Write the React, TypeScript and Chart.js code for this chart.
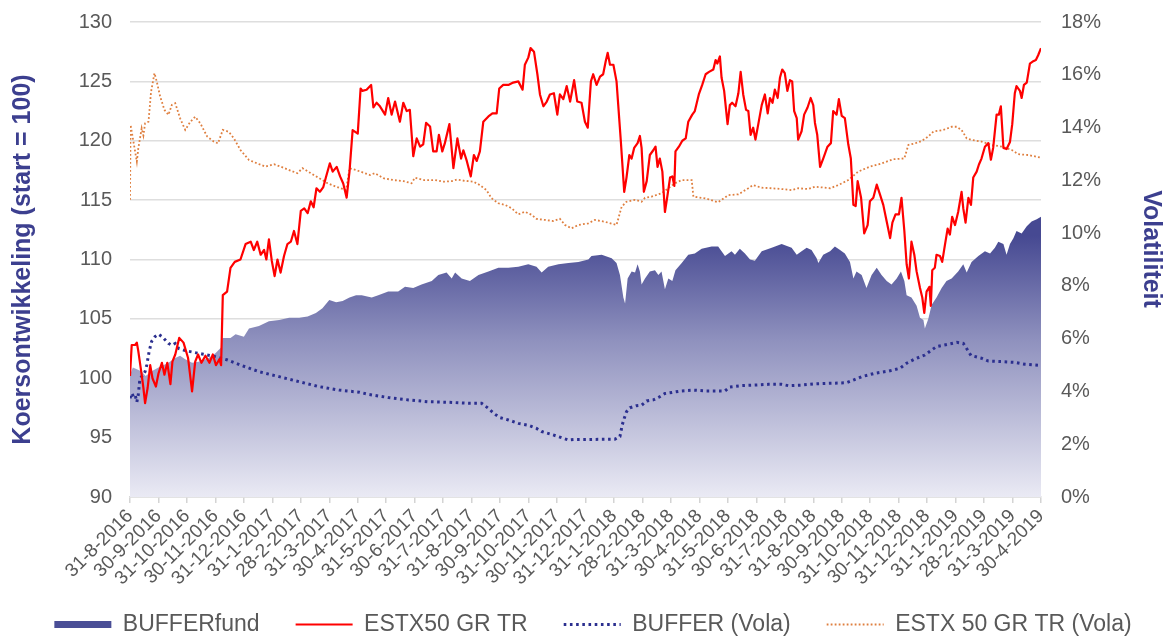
import React, { useEffect, useRef } from "react";
import { Chart, registerables } from "chart.js";

Chart.register(...registerables);

// ---------- data ----------
const monthLabels: string[] = [
  "31-8-2016", "30-9-2016", "31-10-2016", "30-11-2016", "31-12-2016",
  "31-1-2017", "28-2-2017", "31-3-2017", "30-4-2017", "31-5-2017", "30-6-2017",
  "31-7-2017", "31-8-2017", "30-9-2017", "31-10-2017", "30-11-2017", "31-12-2017",
  "31-1-2018", "28-2-2018", "31-3-2018", "30-4-2018", "31-5-2018", "30-6-2018",
  "31-7-2018", "31-8-2018", "30-9-2018", "31-10-2018", "30-11-2018", "31-12-2018",
  "31-1-2019", "28-2-2019", "31-3-2019", "30-4-2019",
];

// [month index since 31-8-2016, index level]
const bufferFund: [number, number][] = [
  [0, 100.3], [0.1, 100.9], [0.4, 100.6], [0.55, 100.2], [0.76, 100.6], [1.0, 100.9], [1.35, 101.3],
  [1.59, 101.7], [1.76, 101.9], [1.94, 101.6], [2.18, 101.3], [2.41, 101.4], [2.76, 101.7], [3.0, 102.1],
  [3.2, 102.6], [3.25, 103.4], [3.53, 103.4], [3.71, 103.7], [4.0, 103.5], [4.18, 104.2], [4.53, 104.4],
  [4.88, 104.8], [5.24, 104.9], [5.59, 105.1], [5.94, 105.1], [6.24, 105.2], [6.53, 105.5], [6.76, 105.9],
  [7.0, 106.6], [7.24, 106.4], [7.47, 106.5], [7.71, 106.8], [7.94, 107.0], [8.14, 107.0], [8.49, 106.8],
  [8.72, 107.0], [9.07, 107.3], [9.42, 107.3], [9.66, 107.7], [9.95, 107.6], [10.24, 107.9], [10.6, 108.2],
  [10.83, 108.7], [11.12, 108.9], [11.3, 108.4], [11.42, 108.9], [11.65, 108.4], [11.94, 108.2], [12.24, 108.7],
  [12.59, 109.0], [12.94, 109.3], [13.29, 109.3], [13.64, 109.4], [13.99, 109.6], [14.28, 109.4], [14.46, 108.9],
  [14.69, 109.4], [15.05, 109.6], [15.4, 109.7], [15.75, 109.8], [16.1, 110.0], [16.21, 110.3], [16.57, 110.4],
  [16.92, 110.1], [17.09, 109.7], [17.21, 108.7], [17.33, 106.8], [17.39, 106.3], [17.48, 108.4], [17.62, 109.0],
  [17.74, 108.9], [17.83, 109.6], [17.91, 109.0], [17.97, 107.9], [18.09, 108.4], [18.26, 109.0], [18.44, 109.1],
  [18.56, 108.7], [18.67, 109.0], [18.79, 107.5], [18.91, 108.4], [19.05, 108.2], [19.16, 109.1], [19.38, 109.7],
  [19.61, 110.4], [19.84, 110.5], [20.08, 110.9], [20.43, 111.1], [20.66, 111.1], [20.9, 110.3], [21.02, 110.5],
  [21.13, 110.7], [21.25, 110.4], [21.42, 110.9], [21.6, 110.5], [21.78, 110.0], [21.95, 109.9], [22.19, 110.7],
  [22.54, 111.0], [22.89, 111.3], [23.24, 111.0], [23.42, 110.4], [23.59, 110.7], [23.77, 111.0], [23.94, 110.8],
  [24.12, 110.1], [24.18, 109.7], [24.35, 110.4], [24.59, 110.7], [24.76, 111.1], [24.94, 110.8], [25.11, 110.5],
  [25.29, 109.8], [25.41, 108.4], [25.52, 109.0], [25.7, 108.7], [25.87, 107.6], [26.05, 108.7], [26.23, 109.3],
  [26.4, 108.7], [26.58, 108.2], [26.75, 107.9], [26.93, 108.4], [27.08, 109.0], [27.2, 108.2], [27.28, 107.0],
  [27.45, 106.8], [27.63, 106.1], [27.75, 105.1], [27.87, 104.9], [27.92, 104.2], [28.04, 105.0], [28.16, 106.2],
  [28.33, 106.8], [28.51, 107.6], [28.68, 108.2], [28.86, 108.4], [29.09, 109.0], [29.27, 109.6], [29.39, 108.9],
  [29.56, 109.8], [29.8, 110.3], [30.03, 110.7], [30.21, 110.5], [30.38, 111.0], [30.5, 111.5], [30.68, 111.3],
  [30.79, 110.4], [30.91, 111.3], [31.03, 111.8], [31.14, 112.4], [31.32, 112.2], [31.5, 112.8], [31.67, 113.2],
  [31.85, 113.4], [32.0, 113.6],
];

const estx50: [number, number][] = [
  [0, 100.2], [0.06, 102.8], [0.18, 102.8], [0.24, 103.0], [0.29, 102.3], [0.41, 100.3], [0.47, 99.2], [0.53, 97.9],
  [0.62, 99.2], [0.71, 101.1], [0.79, 100.0], [0.91, 99.3], [1.0, 100.4], [1.12, 101.3], [1.21, 100.3], [1.31, 101.3],
  [1.42, 99.5], [1.49, 101.4], [1.59, 102.0], [1.73, 103.4], [1.88, 103.0], [2.04, 101.7], [2.18, 98.9], [2.29, 101.4],
  [2.39, 102.0], [2.51, 101.3], [2.65, 101.9], [2.79, 101.3], [2.91, 102.0], [3.02, 101.1], [3.14, 101.6], [3.2, 101.1],
  [3.26, 107.0], [3.41, 107.3], [3.53, 109.3], [3.68, 109.8], [3.88, 110.0], [4.06, 111.3], [4.24, 111.5], [4.35, 110.8],
  [4.47, 111.5], [4.59, 110.4], [4.71, 110.8], [4.79, 110.0], [4.88, 111.7], [4.98, 109.9], [5.08, 108.6], [5.18, 110.0],
  [5.29, 108.9], [5.41, 110.3], [5.53, 111.3], [5.65, 111.5], [5.76, 112.4], [5.88, 111.3], [6.0, 114.1], [6.12, 114.3],
  [6.24, 113.9], [6.35, 114.9], [6.45, 114.4], [6.55, 116.0], [6.67, 115.7], [6.79, 116.1], [6.88, 116.9], [7.02, 118.1],
  [7.12, 117.4], [7.26, 117.8], [7.38, 117.0], [7.49, 116.4], [7.61, 115.2], [7.71, 117.4], [7.82, 120.9], [8.0, 120.6],
  [8.1, 124.4], [8.16, 124.2], [8.31, 124.3], [8.47, 124.7], [8.55, 122.8], [8.66, 123.2], [8.78, 122.9], [8.96, 122.2],
  [9.07, 123.6], [9.19, 122.2], [9.31, 123.3], [9.48, 121.6], [9.6, 123.2], [9.72, 122.5], [9.83, 122.6], [9.95, 118.7],
  [10.07, 120.2], [10.19, 119.5], [10.3, 119.7], [10.4, 121.5], [10.54, 121.2], [10.65, 119.1], [10.77, 119.1],
  [10.85, 120.5], [10.97, 119.1], [11.06, 119.8], [11.22, 121.4], [11.36, 117.7], [11.5, 120.2], [11.63, 118.5],
  [11.71, 119.2], [11.83, 118.3], [11.97, 117.0], [12.08, 118.8], [12.18, 118.3], [12.29, 119.1], [12.41, 121.6],
  [12.59, 122.05], [12.73, 122.3], [12.88, 122.3], [12.97, 124.4], [13.11, 124.7], [13.29, 124.7], [13.46, 124.9],
  [13.64, 125.0], [13.79, 124.3], [13.87, 126.4], [13.99, 127.0], [14.07, 127.8], [14.19, 127.5], [14.31, 125.6],
  [14.4, 123.9], [14.52, 122.9], [14.64, 123.3], [14.75, 123.9], [14.89, 124.0], [15.01, 122.2], [15.1, 123.9],
  [15.22, 123.5], [15.34, 124.6], [15.46, 123.3], [15.6, 125.1], [15.71, 123.3], [15.86, 123.2], [15.98, 121.6],
  [16.08, 121.1], [16.19, 125.0], [16.27, 125.6], [16.39, 124.7], [16.51, 125.4], [16.62, 125.6], [16.71, 126.7],
  [16.78, 127.4], [16.86, 126.4], [16.98, 126.4], [17.09, 125.0], [17.15, 123.0], [17.24, 120.0], [17.36, 115.7],
  [17.44, 116.9], [17.54, 118.8], [17.62, 118.5], [17.71, 119.4], [17.83, 119.8], [17.91, 120.4], [17.97, 119.4],
  [18.05, 115.7], [18.15, 116.6], [18.26, 118.8], [18.38, 119.2], [18.46, 119.5], [18.53, 117.8], [18.61, 118.5],
  [18.7, 117.4], [18.79, 114.0], [18.88, 115.4], [18.97, 116.9], [19.05, 117.0], [19.12, 116.2], [19.16, 119.1],
  [19.28, 119.5], [19.4, 120.0], [19.52, 120.2], [19.61, 121.6], [19.75, 122.2], [19.84, 122.5], [19.98, 123.9],
  [20.1, 124.7], [20.22, 125.6], [20.34, 125.8], [20.49, 126.0], [20.57, 126.8], [20.63, 126.5], [20.72, 127.1],
  [20.78, 125.3], [20.87, 124.2], [20.99, 121.4], [21.07, 123.0], [21.15, 123.2], [21.27, 122.9], [21.37, 124.0],
  [21.45, 125.8], [21.54, 123.9], [21.64, 122.6], [21.72, 122.5], [21.8, 120.5], [21.89, 121.1], [21.97, 120.1],
  [22.07, 121.4], [22.19, 123.0], [22.3, 123.9], [22.4, 122.3], [22.48, 123.6], [22.57, 123.2], [22.65, 124.3],
  [22.75, 123.6], [22.83, 125.3], [22.91, 126.0], [23.0, 125.7], [23.09, 124.2], [23.18, 125.1], [23.26, 125.0],
  [23.33, 122.5], [23.42, 121.9], [23.47, 120.1], [23.59, 120.8], [23.68, 122.2], [23.8, 122.8], [23.91, 123.6],
  [24.0, 123.0], [24.06, 121.5], [24.14, 120.5], [24.24, 117.8], [24.35, 118.5], [24.5, 119.5], [24.62, 119.8],
  [24.7, 122.5], [24.82, 122.2], [24.9, 123.5], [25.0, 122.1], [25.11, 121.9], [25.23, 119.7], [25.32, 118.5],
  [25.41, 114.6], [25.49, 114.5], [25.56, 116.6], [25.68, 115.2], [25.79, 112.2], [25.91, 112.9], [25.99, 114.9],
  [26.11, 115.2], [26.23, 116.3], [26.34, 115.5], [26.46, 114.6], [26.58, 113.2], [26.7, 111.8], [26.78, 113.1],
  [26.89, 113.8], [27.01, 113.8], [27.1, 115.2], [27.2, 112.4], [27.28, 109.6], [27.36, 108.4], [27.45, 111.5],
  [27.55, 110.4], [27.63, 109.0], [27.75, 107.6], [27.83, 106.8], [27.9, 105.5], [27.98, 107.3], [28.08, 107.7],
  [28.13, 106.1], [28.18, 109.1], [28.27, 109.3], [28.33, 110.4], [28.45, 110.3], [28.53, 109.8], [28.63, 111.3],
  [28.72, 112.6], [28.8, 112.1], [28.88, 113.6], [28.98, 112.9], [29.09, 114.0], [29.21, 115.7], [29.27, 114.3],
  [29.35, 113.1], [29.45, 115.2], [29.54, 114.6], [29.62, 116.9], [29.74, 117.4], [29.82, 118.0], [29.91, 118.5],
  [30.03, 119.5], [30.15, 119.8], [30.24, 118.4], [30.32, 119.4], [30.44, 122.2], [30.52, 122.2], [30.59, 122.9],
  [30.68, 119.4], [30.79, 119.3], [30.91, 119.9], [30.99, 121.4], [31.08, 124.0], [31.14, 124.6], [31.26, 124.2],
  [31.32, 123.6], [31.4, 124.7], [31.5, 124.9], [31.61, 126.5], [31.73, 126.7], [31.82, 126.8], [31.9, 127.2],
  [32.0, 127.8],
];

// volatility in %
const bufferVola: [number, number][] = [
  [0, 3.74], [0.06, 3.93], [0.12, 3.81], [0.18, 3.87], [0.24, 3.6], [0.29, 3.87], [0.35, 4.5], [0.41, 4.56],
  [0.53, 4.75], [0.59, 5.0], [0.67, 5.5], [0.76, 5.9], [0.88, 6.08], [1.0, 6.17], [1.12, 6.08], [1.24, 5.95],
  [1.35, 5.82], [1.47, 5.75], [1.59, 5.82], [1.71, 5.63], [1.88, 5.57], [2.06, 5.52], [2.53, 5.42], [3.0, 5.32],
  [3.4, 5.2], [3.88, 5.0], [4.53, 4.75], [5.24, 4.56], [5.94, 4.37], [6.65, 4.18], [7.35, 4.05], [8.06, 3.97],
  [8.37, 3.89], [9.07, 3.77], [9.78, 3.68], [10.48, 3.61], [11.18, 3.59], [11.94, 3.55], [12.35, 3.55], [12.59, 3.36],
  [12.8, 3.15], [12.99, 3.01], [13.29, 2.92], [13.64, 2.79], [13.99, 2.72], [14.28, 2.6], [14.46, 2.48], [14.81, 2.37],
  [15.1, 2.27], [15.4, 2.16], [15.63, 2.18], [16.1, 2.18], [17.03, 2.19], [17.21, 2.29], [17.29, 2.73], [17.36, 2.98],
  [17.44, 3.23], [17.56, 3.38], [17.79, 3.46], [17.97, 3.48], [18.15, 3.64], [18.38, 3.68], [18.56, 3.77], [18.79, 3.92],
  [19.08, 3.97], [19.38, 4.02], [19.79, 4.05], [20.2, 4.02], [20.66, 4.02], [20.9, 4.02], [21.07, 4.17], [21.48, 4.22],
  [21.95, 4.24], [22.42, 4.27], [22.89, 4.27], [23.12, 4.22], [23.59, 4.24], [24.06, 4.29], [24.65, 4.31], [25.17, 4.33],
  [25.41, 4.43], [25.7, 4.56], [26.17, 4.69], [26.64, 4.77], [27.05, 4.88], [27.28, 5.07], [27.57, 5.23], [27.92, 5.38],
  [28.16, 5.57], [28.33, 5.7], [28.74, 5.79], [29.04, 5.86], [29.27, 5.82], [29.42, 5.57], [29.54, 5.36], [29.91, 5.26],
  [30.15, 5.15], [30.62, 5.13], [31.08, 5.1], [31.44, 5.03], [32.0, 4.98],
];

const estxVola: [number, number][] = [
  [0, 11.26], [0.02, 14.1], [0.12, 13.47], [0.24, 12.71], [0.29, 13.2], [0.41, 13.97], [0.47, 13.7], [0.53, 14.16],
  [0.65, 14.22], [0.74, 15.36], [0.86, 16.06], [0.94, 15.74], [1.06, 15.17], [1.21, 14.67], [1.35, 14.48], [1.47, 14.86],
  [1.59, 14.92], [1.76, 14.35], [1.94, 13.91], [2.12, 14.22], [2.29, 14.41], [2.47, 14.16], [2.71, 13.66], [2.94, 13.47],
  [3.09, 13.4], [3.26, 13.91], [3.47, 13.84], [3.65, 13.59], [3.88, 13.15], [4.18, 12.77], [4.47, 12.64], [4.76, 12.52],
  [5.06, 12.61], [5.29, 12.52], [5.59, 12.39], [5.88, 12.27], [6.06, 12.46], [6.35, 12.27], [6.65, 12.08], [6.94, 11.89],
  [7.24, 11.76], [7.59, 11.63], [7.71, 12.46], [7.94, 12.39], [8.43, 12.2], [8.6, 12.27], [8.9, 12.08], [9.25, 12.01],
  [9.6, 11.97], [9.89, 11.89], [10.01, 12.1], [10.3, 12.01], [10.71, 12.01], [11.0, 11.95], [11.3, 11.97], [11.48, 12.03],
  [11.77, 11.98], [12.06, 11.95], [12.29, 11.82], [12.52, 11.63], [12.7, 11.32], [12.94, 11.13], [13.17, 11.07],
  [13.41, 10.94], [13.64, 10.71], [13.87, 10.81], [14.11, 10.69], [14.28, 10.54], [14.58, 10.5], [14.87, 10.46],
  [15.1, 10.54], [15.28, 10.31], [15.51, 10.18], [15.75, 10.31], [16.1, 10.37], [16.33, 10.5], [16.68, 10.43],
  [17.09, 10.31], [17.27, 11.0], [17.44, 11.19], [17.74, 11.26], [17.97, 11.19], [18.09, 11.34], [18.32, 11.38],
  [18.67, 11.51], [18.91, 11.7], [19.14, 11.89], [19.38, 12.01], [19.73, 12.01], [19.79, 11.38], [20.2, 11.32],
  [20.66, 11.17], [21.02, 11.44], [21.37, 11.47], [21.72, 11.7], [21.89, 11.82], [22.19, 11.72], [22.54, 11.7],
  [22.89, 11.67], [23.24, 11.63], [23.47, 11.7], [23.82, 11.67], [24.06, 11.76], [24.59, 11.7], [24.88, 11.82],
  [25.23, 12.01], [25.58, 12.33], [25.99, 12.52], [26.4, 12.64], [26.81, 12.8], [27.2, 12.83], [27.34, 13.34],
  [27.57, 13.4], [27.81, 13.49], [28.04, 13.66], [28.22, 13.85], [28.57, 13.91], [28.86, 14.03], [29.04, 14.03],
  [29.21, 13.91], [29.39, 13.59], [29.56, 13.53], [29.91, 13.47], [30.27, 13.34], [30.62, 13.28], [30.97, 13.15],
  [31.2, 12.99], [31.55, 12.96], [32.0, 12.86],
];

const seriesNames = ["BUFFERfund", "ESTX50 GR TR", "BUFFER (Vola)", "ESTX 50 GR TR (Vola)"];
const leftTicks = { min: 90, max: 130, step: 5 };
const rightTicks = { min: 0, max: 18, step: 2 };

// ---------- styling ----------
const FONT = "'Liberation Sans', Arial, Helvetica, sans-serif";
const GREY = "#595959";
const NAVY = "#3c3f8f";
const RED = "#ff0000";
const BLUE_DOT = "#2b2f8f";
const ORANGE_DOT = "#df7f3f";
const CANVAS_W = 1166;
const CANVAS_H = 666;
const X_AXIS_H = 100;
const LEGEND_PAD = 36;
const LEGEND_SHIFT_Y = -20;
const LEGEND_SHIFT_X = 10;

const toXY = (pts: [number, number][]) => pts.map(([x, y]) => ({ x, y }));

// moves the legend box after Chart.js layout (legend padding also spaces items horizontally)
const legendNudge = {
  id: "legendNudge",
  afterLayout(chart: any) {
    const l = chart.legend;
    if (!l) return;
    l.top += LEGEND_SHIFT_Y;
    l.bottom += LEGEND_SHIFT_Y;
    l.left += LEGEND_SHIFT_X;
    l.right += LEGEND_SHIFT_X;
  },
};

export default function App() {
  const canvasRef = useRef<HTMLCanvasElement | null>(null);

  useEffect(() => {
    const canvas = canvasRef.current;
    if (!canvas) return;
    Chart.defaults.font.family = FONT;

    const areaFill = (context: any) => {
      const chart = context.chart;
      const { ctx, chartArea, scales } = chart;
      if (!chartArea || !scales?.y) return "rgba(80,84,154,0.7)";
      const top = scales.y.getPixelForValue(112);
      const g = ctx.createLinearGradient(0, top, 0, chartArea.bottom);
      g.addColorStop(0, "rgb(70,73,146)");
      g.addColorStop(0.4, "rgb(143,145,190)");
      g.addColorStop(1, "rgb(234,234,244)");
      return g;
    };

    const chart = new Chart(canvas, {
      type: "line",
      plugins: [legendNudge],
      data: {
        datasets: [
          {
            label: seriesNames[0],
            data: toXY(bufferFund),
            yAxisID: "y",
            fill: "start",
            backgroundColor: areaFill,
            borderWidth: 0,
            borderColor: "rgba(0,0,0,0)",
            pointRadius: 0,
            order: 3,
          },
          {
            label: seriesNames[1],
            data: toXY(estx50),
            yAxisID: "y",
            fill: false,
            borderColor: RED,
            borderWidth: 2.2,
            borderJoinStyle: "round",
            pointRadius: 0,
            order: 0,
          },
          {
            label: seriesNames[2],
            data: toXY(bufferVola),
            yAxisID: "y1",
            fill: false,
            borderColor: BLUE_DOT,
            borderWidth: 3,
            borderDash: [2.6, 3.6],
            pointRadius: 0,
            order: 1,
          },
          {
            label: seriesNames[3],
            data: toXY(estxVola),
            yAxisID: "y1",
            fill: false,
            borderColor: ORANGE_DOT,
            borderWidth: 1.8,
            borderDash: [1.8, 2.2],
            pointRadius: 0,
            order: 2,
          },
        ],
      },
      options: {
        responsive: false,
        animation: false,
        events: [],
        layout: { padding: { top: 22, left: 0, right: 0, bottom: 0 } },
        elements: { line: { tension: 0 }, point: { radius: 0 } },
        plugins: {
          tooltip: { enabled: false },
          legend: {
            display: true,
            position: "bottom",
            align: "center",
            labels: {
              color: GREY,
              font: { size: 23, family: FONT },
              usePointStyle: true,
              pointStyleWidth: 57,
              padding: LEGEND_PAD,
              generateLabels: () => [
                { text: seriesNames[0], fillStyle: "rgba(0,0,0,0)", strokeStyle: "#4a4e96", lineWidth: 7, lineDash: [], pointStyle: "line", fontColor: GREY, hidden: false, datasetIndex: 0 },
                { text: seriesNames[1], fillStyle: "rgba(0,0,0,0)", strokeStyle: RED, lineWidth: 2.2, lineDash: [], pointStyle: "line", fontColor: GREY, hidden: false, datasetIndex: 1 },
                { text: seriesNames[2], fillStyle: "rgba(0,0,0,0)", strokeStyle: BLUE_DOT, lineWidth: 3, lineDash: [2.6, 3.6], pointStyle: "line", fontColor: GREY, hidden: false, datasetIndex: 2 },
                { text: seriesNames[3], fillStyle: "rgba(0,0,0,0)", strokeStyle: ORANGE_DOT, lineWidth: 1.8, lineDash: [1.8, 2.2], pointStyle: "line", fontColor: GREY, hidden: false, datasetIndex: 3 },
              ] as any,
            },
          },
        },
        scales: {
          x: {
            type: "linear",
            min: 0,
            max: monthLabels.length - 1,
            offset: false,
            ticks: {
              stepSize: 1,
              autoSkip: false,
              maxRotation: 45,
              minRotation: 45,
              color: GREY,
              font: { size: 19, family: FONT },
              padding: 2,
              callback: (v: any) => monthLabels[Math.round(Number(v))] ?? "",
            },
            grid: { display: true, drawOnChartArea: false, drawTicks: true, tickLength: 6, color: "#d4d4d4", lineWidth: 1.5 },
            border: { display: true, color: "#d9d9d9", width: 1.5 },
            afterFit: (s: any) => { s.height = X_AXIS_H; },
          },
          y: {
            type: "linear",
            position: "left",
            min: leftTicks.min,
            max: leftTicks.max,
            ticks: { stepSize: leftTicks.step, color: GREY, font: { size: 20, family: FONT }, padding: 2 },
            grid: { color: "#dedede", lineWidth: 1.6, drawTicks: true, tickLength: 16, tickColor: "rgba(0,0,0,0)" },
            border: { display: false },
            title: {
              display: true,
              text: "Koersontwikkeling (start = 100)",
              color: NAVY,
              font: { size: 25, weight: "bold", family: FONT },
              padding: { top: 8, bottom: 0 },
            },
            afterFit: (s: any) => { s.width = 130; },
          },
          y1: {
            type: "linear",
            position: "right",
            min: rightTicks.min,
            max: rightTicks.max,
            ticks: {
              stepSize: rightTicks.step,
              color: GREY,
              font: { size: 20, family: FONT },
              padding: 2,
              callback: (v: any) => `${v}%`,
            },
            grid: { display: false, drawTicks: true, tickLength: 18, drawOnChartArea: false },
            border: { display: false },
            title: {
              display: true,
              text: "Volatiliteit   ",
              color: NAVY,
              font: { size: 25, weight: "bold", family: FONT },
              padding: { top: 0, bottom: 0 },
            },
            afterFit: (s: any) => { s.width = 125; },
          },
        },
      } as any,
    });

    return () => chart.destroy();
  }, []);

  return (
    <div
      style={{
        position: "absolute",
        left: 0,
        top: 0,
        width: CANVAS_W,
        height: 637,
        overflow: "hidden",
        background: "#ffffff",
      }}
    >
      <canvas ref={canvasRef} width={CANVAS_W} height={CANVAS_H} style={{ display: "block" }} />
    </div>
  );
}
